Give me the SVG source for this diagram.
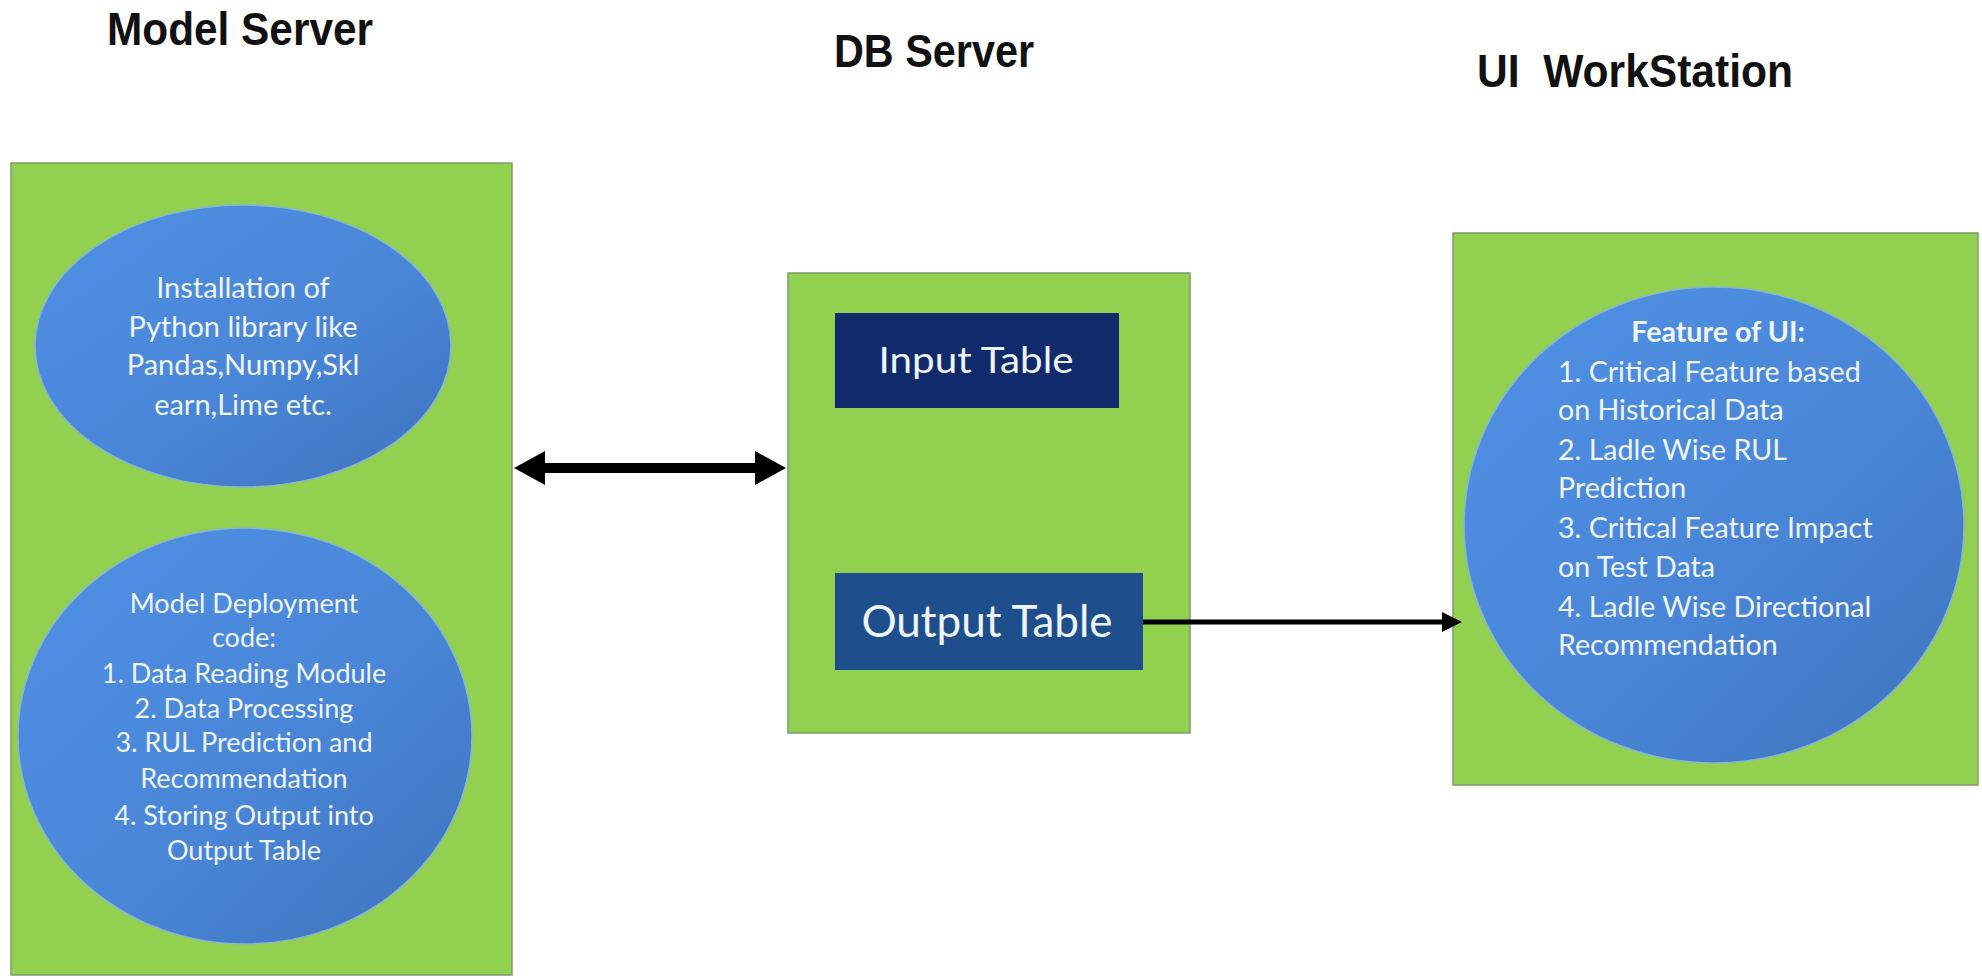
<svg xmlns="http://www.w3.org/2000/svg" width="1982" height="979" viewBox="0 0 1982 979">
<style>
.title{font-family:"Liberation Sans",Arial,sans-serif;font-weight:bold;font-size:47px;fill:#111;white-space:pre}
.panel{fill:#92d050;stroke:#7c9c6c;stroke-width:1.5}
.bubble{fill:url(#blueGrad);stroke:#86b6d6;stroke-width:1.5}
.t{font-family:"Lato","Liberation Sans",sans-serif;font-size:27px;fill:#eef5fc;text-anchor:middle}
.t1{font-family:"Lato","Liberation Sans",sans-serif;font-size:29px;fill:#eef5fc;text-anchor:middle}
.tl{font-family:"Lato","Liberation Sans",sans-serif;font-size:28.6px;fill:#eef5fc}
.tb{font-family:"Lato","Liberation Sans",sans-serif;font-size:28.6px;fill:#eef5fc;font-weight:bold;text-anchor:middle}
.tab{font-family:"Lato","Liberation Sans",sans-serif;fill:#eef5fc;text-anchor:middle}
.conn{stroke:#000;fill:none}
</style>
<defs>
<linearGradient id="blueGrad" x1="0" y1="0" x2="1" y2="1">
<stop offset="0" stop-color="#4f90e4"/>
<stop offset="0.55" stop-color="#4a86d8"/>
<stop offset="1" stop-color="#3f72bd"/>
</linearGradient>
<marker id="bigHead" markerUnits="userSpaceOnUse" markerWidth="32" markerHeight="34" viewBox="0 -17 32 34" refX="0" refY="0" orient="auto-start-reverse" overflow="visible">
<path d="M0,-17 L31,0 L0,17 z" fill="#000"/>
</marker>
<marker id="smallHead" markerUnits="userSpaceOnUse" markerWidth="22" markerHeight="22" viewBox="0 -11 22 22" refX="0" refY="0" orient="auto" overflow="visible">
<path d="M0,-10 L20,0 L0,10 z" fill="#000"/>
</marker>
</defs>
<rect x="0" y="0" width="1982" height="979" fill="#ffffff"/>

<g id="titles">
<text class="title" x="107" y="45" textLength="266" lengthAdjust="spacingAndGlyphs">Model Server</text>
<text class="title" x="834" y="67" textLength="200" lengthAdjust="spacingAndGlyphs">DB Server</text>
<text class="title" x="1477" y="87" textLength="316" lengthAdjust="spacingAndGlyphs">UI  WorkStation</text>
</g>

<g id="model-server">
<rect class="panel" x="11" y="163" width="501" height="812"/>
<g id="python-libs">
<ellipse class="bubble" cx="243" cy="346" rx="208" ry="141"/>
<text class="t1" x="243" y="298">Installation of</text>
<text class="t1" x="243" y="337">Python library like</text>
<text class="t1" x="243" y="375">Pandas,Numpy,Skl</text>
<text class="t1" x="243" y="415">earn,Lime etc.</text>
</g>
<g id="deployment-code">
<ellipse class="bubble" cx="245" cy="736" rx="227" ry="208"/>
<text class="t" x="244" y="613">Model Deployment</text>
<text class="t" x="244" y="647">code:</text>
<text class="t" x="244" y="683">1. Data Reading Module</text>
<text class="t" x="244" y="718">2. Data Processing</text>
<text class="t" x="244" y="752">3. RUL Prediction and</text>
<text class="t" x="244" y="788">Recommendation</text>
<text class="t" x="244" y="825">4. Storing Output into</text>
<text class="t" x="244" y="860">Output Table</text>
</g>
</g>

<g id="db-server">
<rect class="panel" x="788" y="273" width="402" height="460"/>
<g id="input-table">
<rect x="835" y="313" width="284" height="95" fill="#102a6c"/>
<text class="tab" x="976" y="373" font-size="36" textLength="195" lengthAdjust="spacingAndGlyphs">Input Table</text>
</g>
<g id="output-table">
<rect x="835" y="573" width="308" height="97" fill="#1f4e8d"/>
<text class="tab" x="987" y="637" font-size="44">Output Table</text>
</g>
</g>

<g id="ui-workstation">
<rect class="panel" x="1453" y="233" width="525" height="552"/>
<g id="ui-features">
<ellipse class="bubble" cx="1714" cy="525" rx="250" ry="238"/>
<text class="tb" x="1718" y="342">Feature of UI:</text>
<text class="tl" x="1558" y="382">1. Critical Feature based</text>
<text class="tl" x="1558" y="420">on Historical Data</text>
<text class="tl" x="1558" y="460">2. Ladle Wise RUL</text>
<text class="tl" x="1558" y="498">Prediction</text>
<text class="tl" x="1558" y="538">3. Critical Feature Impact</text>
<text class="tl" x="1558" y="577">on Test Data</text>
<text class="tl" x="1558" y="617">4. Ladle Wise Directional</text>
<text class="tl" x="1558" y="655">Recommendation</text>
</g>
</g>

<g id="connectors">
<line class="conn" x1="545" y1="468" x2="755" y2="468" stroke-width="10" marker-start="url(#bigHead)" marker-end="url(#bigHead)"/>
<line class="conn" x1="1143" y1="622" x2="1442" y2="622" stroke-width="5" marker-end="url(#smallHead)"/>
</g>
</svg>
